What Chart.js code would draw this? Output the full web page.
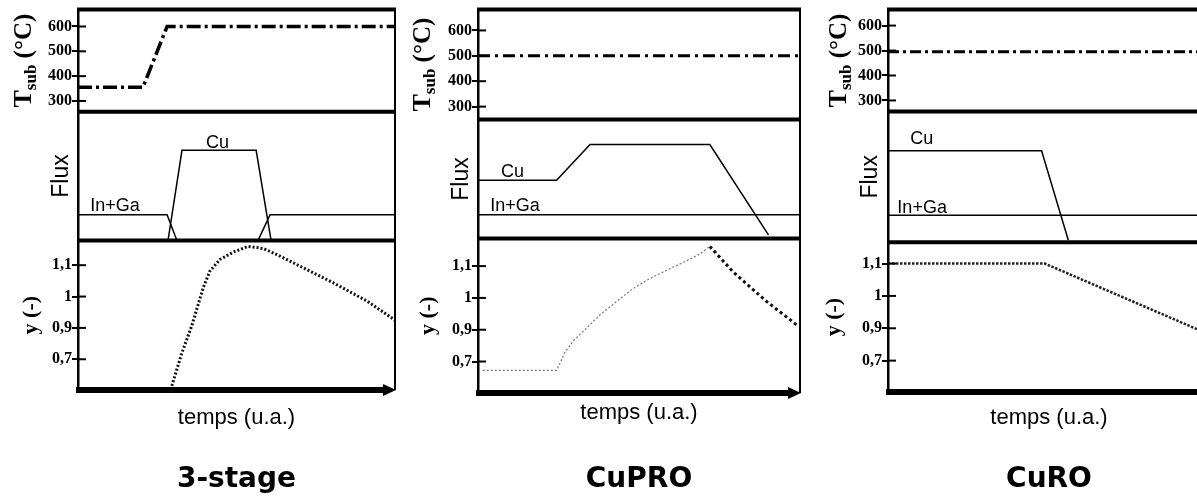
<!DOCTYPE html>
<html>
<head>
<meta charset="utf-8">
<script src="https://cdn.jsdelivr.net/npm/chart.js@4.4.1/dist/chart.umd.min.js"></script>
<style>
  html, body { margin: 0; padding: 0; background: #fff; }
  body { width: 1197px; height: 501px; overflow: hidden; position: relative; }
  canvas { position: absolute; top: 0; }
</style>
</head>
<body>
<canvas id="col-3stage" width="400" height="501" style="left:0px"></canvas>
<canvas id="col-cupro" width="405" height="501" style="left:400px"></canvas>
<canvas id="col-curo" width="405" height="501" style="left:810px"></canvas>
<script>
// time runs 0..100 (u.a.) across every panel
const tsubTicks = [300, 400, 500, 600];
const yTicks = [0.8, 0.9, 1.0, 1.1];
const yTickLabels = ['0,7', '0,9', '1', '1,1'];

// 3-stage
const stageTsubTime = [0, 20.5, 28.1, 100];
const stageTsub = [355, 355, 600, 600];
const stageCuTime = [28.4, 32.8, 56.2, 60.9];
const stageCu = [0, 0.7, 0.7, 0];
const stageInGaTime = [0, 28.1, 31.2, 56.8, 60.6, 100];
const stageInGa = [0.2, 0.2, 0, 0, 0.2, 0.2];
const stageYTime = [29.6, 32.7, 35.9, 39.5, 41.6, 44.8, 49.0, 53.7, 58.5, 62.7, 70.0, 80.5, 91.1, 100];
const stageY = [0.715, 0.818, 0.907, 1.028, 1.081, 1.118, 1.142, 1.16, 1.153, 1.134, 1.097, 1.044, 0.986, 0.925];

// CuPRO
const cuproTsubTime = [0, 100];
const cuproTsub = [500, 500];
const cuproCuTime = [0, 24.4, 34.8, 72.0, 90.2];
const cuproCu = [0.49, 0.49, 0.79, 0.79, 0.03];
const cuproInGaTime = [0, 100];
const cuproInGa = [0.2, 0.2];
const cuproYRiseTime = [1.5, 24.4, 27.0, 29.6, 33.8, 37.9, 43.1, 48.2, 53.4, 58.6, 63.8, 68.9, 72.0];
const cuproYRise = [0.772, 0.772, 0.829, 0.865, 0.906, 0.947, 0.989, 1.03, 1.061, 1.087, 1.112, 1.138, 1.162];
const cuproYFallTime = [72.0, 79.3, 89.6, 99.5];
const cuproYFall = [1.162, 1.081, 0.989, 0.911];

// CuRO
const curoTsubTime = [0, 100];
const curoTsub = [495, 495];
const curoCuTime = [0, 47.7, 56.0];
const curoCu = [0.7, 0.7, 0.015];
const curoInGaTime = [0, 100];
const curoInGa = [0.206, 0.206];
const curoYTime = [0, 48.7, 100];
const curoY = [1.1, 1.1, 0.88];

const SERIF = '"Liberation Serif", "Times New Roman", serif';
const SANS = '"Liberation Sans", Arial, sans-serif';

const series = (time, values, axis, style) => ({
  data: time.map((t, i) => ({ x: t, y: values[i] })),
  yAxisID: axis,
  borderColor: '#000',
  borderWidth: 1.5,
  pointRadius: 0,
  tension: 0,
  ...style,
});

const drawTsubTitle = (ctx, x, yMid) => {
  const parts = [
    { text: 'T', font: `bold 26px ${SERIF}`, shift: 0 },
    { text: 'sub', font: `bold 17px ${SERIF}`, shift: 5 },
    { text: ' (°C)', font: `bold 25px ${SERIF}`, shift: 0 },
  ];
  ctx.save();
  ctx.translate(x, yMid);
  ctx.rotate(-Math.PI / 2);
  ctx.fillStyle = '#000';
  ctx.textBaseline = 'alphabetic';
  const widths = parts.map((p) => { ctx.font = p.font; return ctx.measureText(p.text).width; });
  let cx = -widths.reduce((a, b) => a + b, 0) / 2;
  parts.forEach((p, i) => {
    ctx.font = p.font;
    ctx.fillText(p.text, cx, 9 + p.shift);
    cx += widths[i];
  });
  ctx.restore();
};

const framePlugin = {
  id: 'frame',
  afterDatasetsDraw(chart, _args, opts) {
    const { ctx, chartArea: { left, right, top, bottom }, scales } = chart;
    ctx.save();
    ctx.strokeStyle = '#000';
    ctx.fillStyle = '#000';

    // thick panel borders
    ctx.lineWidth = 4;
    [scales.tsub.top, scales.tsub.bottom, scales.flux.bottom].forEach((py) => {
      ctx.beginPath(); ctx.moveTo(left - 1, py); ctx.lineTo(right + 1, py); ctx.stroke();
    });

    ctx.lineWidth = 2;
    ctx.beginPath(); ctx.moveTo(right, top); ctx.lineTo(right, bottom); ctx.stroke();

    // tick marks also cross into the panel
    ['tsub', 'yv'].forEach((id) => {
      const s = scales[id];
      s.ticks.forEach((tk) => {
        const py = s.getPixelForValue(tk.value);
        ctx.beginPath(); ctx.moveTo(left, py); ctx.lineTo(left + 8, py); ctx.stroke();
      });
    });

    // time axis arrow
    ctx.lineWidth = 6;
    ctx.beginPath(); ctx.moveTo(left - 2, bottom); ctx.lineTo(right - 8, bottom); ctx.stroke();
    ctx.beginPath();
    ctx.moveTo(right + 1, bottom);
    ctx.lineTo(right - 12, bottom - 6);
    ctx.lineTo(right - 12, bottom + 6);
    ctx.closePath();
    ctx.fill();

    // flux curve names
    ctx.font = `18px ${SANS}`;
    ctx.textAlign = 'center';
    ctx.textBaseline = 'middle';
    opts.notes.forEach((n) => {
      ctx.fillText(n.text, scales.x.getPixelForValue(n.t), scales.flux.getPixelForValue(n.v));
    });
    ctx.restore();

    drawTsubTitle(ctx, opts.tsubX, (scales.tsub.top + scales.tsub.bottom) / 2);
  },
};

const tickFont = { family: SERIF, size: 16, weight: 'bold' };

const buildColumn = (canvasId, cfg) => new Chart(document.getElementById(canvasId), {
  type: 'line',
  data: { datasets: cfg.datasets },
  options: {
    responsive: false,
    animation: false,
    events: [],
    layout: { padding: { top: cfg.top, right: 5, bottom: 0, left: 0 } },
    plugins: {
      legend: { display: false },
      tooltip: { enabled: false },
      title: {
        display: true,
        position: 'bottom',
        fullSize: false,
        text: cfg.title,
        color: '#000',
        font: { family: '"DejaVu Sans", sans-serif', size: 28, weight: 'bold' },
        padding: { top: 0, bottom: 4 },
      },
      frame: { notes: cfg.notes, tsubX: cfg.tsubX },
    },
    scales: {
      x: {
        type: 'linear',
        min: 0,
        max: 100,
        ticks: { display: false },
        grid: { display: false, drawTicks: false },
        border: { display: false },
        title: {
          display: true,
          text: 'temps (u.a.)',
          color: '#000',
          font: { family: SANS, size: 22 },
          padding: { top: cfg.xPad[0], bottom: cfg.xPad[1] },
        },
      },
      tsub: {
        type: 'linear',
        position: 'left',
        stack: 'col',
        stackWeight: cfg.heights[0],
        weight: 3,
        min: cfg.tsubRange[0],
        max: cfg.tsubRange[1],
        afterBuildTicks: (s) => { s.ticks = tsubTicks.map((v) => ({ value: v })); },
        afterFit: (s) => { s.width = 78; },
        ticks: { color: '#000', font: tickFont, padding: 0, autoSkip: false },
        grid: { drawOnChartArea: false, color: '#000', lineWidth: 2, tickLength: 6 },
        border: { color: '#000', width: 2.5 },
      },
      flux: {
        type: 'linear',
        position: 'left',
        stack: 'col',
        stackWeight: cfg.heights[1],
        weight: 2,
        min: 0,
        max: 1,
        afterFit: (s) => { s.width = 78; },
        ticks: { display: false },
        grid: { display: false },
        border: { color: '#000', width: 2.5 },
        title: {
          display: true,
          text: 'Flux',
          color: '#000',
          font: { family: SANS, size: 23 },
          padding: { top: cfg.fluxX - 13.8, bottom: 0 },
        },
      },
      yv: {
        type: 'linear',
        position: 'left',
        stack: 'col',
        stackWeight: cfg.heights[2],
        weight: 1,
        min: cfg.yRange[0],
        max: cfg.yRange[1],
        afterBuildTicks: (s) => { s.ticks = yTicks.map((v) => ({ value: v })); },
        afterFit: (s) => { s.width = 78; },
        ticks: {
          color: '#000',
          font: tickFont,
          padding: 0,
          autoSkip: false,
          callback: (v) => yTickLabels[yTicks.indexOf(v)],
        },
        grid: { drawOnChartArea: false, color: '#000', lineWidth: 2, tickLength: 6 },
        border: { color: '#000', width: 2.5 },
        title: {
          display: true,
          text: 'y (-)',
          color: '#000',
          font: { family: SERIF, size: 22, weight: 'bold' },
          padding: { top: cfg.yX - 13.2, bottom: 0 },
        },
      },
    },
  },
  plugins: [framePlugin],
});

buildColumn('col-3stage', {
  title: '3-stage',
  top: 6,
  heights: [103, 130, 151],
  tsubRange: [257, 668],
  yRange: [0.702, 1.179],
  xPad: [14.8, 32.2],
  tsubX: 22,
  fluxX: 62,
  yX: 31,
  notes: [
    { text: 'Cu', t: 44, v: 0.754 },
    { text: 'In+Ga', t: 11.7, v: 0.27 },
  ],
  datasets: [
    series(stageTsubTime, stageTsub, 'tsub', { borderWidth: 3.5, borderDash: [14, 4, 3, 4] }),
    series(stageCuTime, stageCu, 'flux'),
    series(stageInGaTime, stageInGa, 'flux'),
    series(stageYTime, stageY, 'yv', { borderWidth: 3, borderDash: [2, 2], borderColor: '#111' }),
  ],
});

buildColumn('col-cupro', {
  title: 'CuPRO',
  top: 6,
  heights: [111, 120, 156],
  tsubRange: [249, 682],
  yRange: [0.701, 1.187],
  xPad: [6.8, 37.2],
  tsubX: 21,
  fluxX: 62,
  yX: 28,
  notes: [
    { text: 'Cu', t: 10.7, v: 0.56 },
    { text: 'In+Ga', t: 11.5, v: 0.275 },
  ],
  datasets: [
    series(cuproTsubTime, cuproTsub, 'tsub', { borderWidth: 3, borderDash: [12, 5, 3, 5] }),
    series(cuproCuTime, cuproCu, 'flux'),
    series(cuproInGaTime, cuproInGa, 'flux'),
    series(cuproYRiseTime, cuproYRise, 'yv', { borderWidth: 1.2, borderDash: [2, 2], borderColor: '#777' }),
    series(cuproYFallTime, cuproYFall, 'yv', { borderWidth: 3, borderDash: [3, 3], borderColor: '#111' }),
  ],
});

buildColumn('col-curo', {
  title: 'CuRO',
  top: 9,
  heights: [102, 131, 150],
  tsubRange: [256, 664],
  yRange: [0.703, 1.166],
  xPad: [12.8, 32.2],
  tsubX: 27,
  fluxX: 61,
  yX: 24,
  notes: [
    { text: 'Cu', t: 10.5, v: 0.79 },
    { text: 'In+Ga', t: 10.6, v: 0.263 },
  ],
  datasets: [
    series(curoTsubTime, curoTsub, 'tsub', { borderWidth: 3, borderDash: [11, 4, 3, 4] }),
    series(curoCuTime, curoCu, 'flux'),
    series(curoInGaTime, curoInGa, 'flux'),
    series(curoYTime, curoY, 'yv', { borderWidth: 2.5, borderDash: [2.5, 1.5], borderColor: '#222' }),
  ],
});
</script>
</body>
</html>
